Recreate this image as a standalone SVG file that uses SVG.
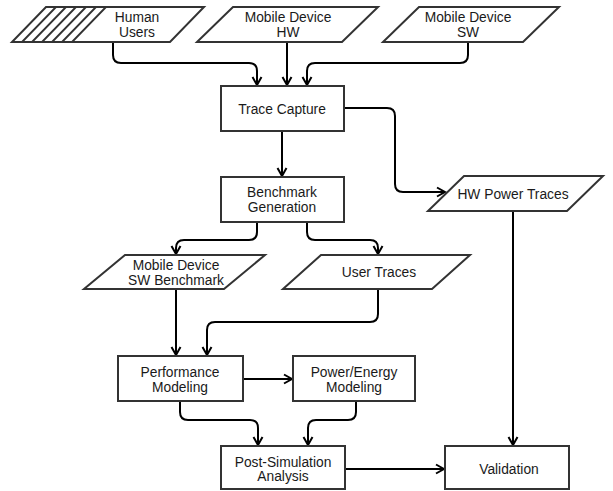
<svg xmlns="http://www.w3.org/2000/svg" width="613" height="491" viewBox="0 0 613 491">
<style>
.n{fill:#fff;stroke:#333;stroke-width:2}
.h{stroke:#333;stroke-width:1.8;fill:none}
.t{font-family:"Liberation Sans",Arial,sans-serif;font-size:13.8px;fill:#1a1a1a;text-anchor:middle}
.c{fill:none;stroke:#000;stroke-width:2;marker-end:url(#a)}
</style>
<defs>
<marker id="a" markerUnits="userSpaceOnUse" markerWidth="12" markerHeight="12" viewBox="-10 -6 12 12" refX="0" refY="0" orient="auto">
<path d="M-8,-4.5 L0,0 L-8,4.5" fill="none" stroke="#000" stroke-width="2"/>
</marker>
</defs>
<rect width="613" height="491" fill="#fff"/>
<g id="connectors">
<path class="c" d="M113,42 V55 Q113,63 121,63 H249 Q257,63 257,71 V85"/>
<path class="c" d="M287,42 V85"/>
<path class="c" d="M468,42 V55 Q468,63 460,63 H315 Q307,63 307,71 V85"/>
<path class="c" d="M282,131 V176"/>
<path class="c" d="M344,108 H387 Q395,108 395,116 V184 Q395,192 403,192 H445"/>
<path class="c" d="M257,222 V232 Q257,240 249,240 H184 Q176,240 176,248 V254"/>
<path class="c" d="M307,222 V232 Q307,240 315,240 H370 Q378,240 378,248 V254"/>
<path class="c" d="M176,289 V355"/>
<path class="c" d="M378,289 V314 Q378,322 370,322 H215 Q207,322 207,330 V355"/>
<path class="c" d="M243,379 H292"/>
<path class="c" d="M180,401 V412 Q180,420 188,420 H250 Q258,420 258,428 V445"/>
<path class="c" d="M356,401 V412 Q356,420 348,420 H316 Q308,420 308,428 V445"/>
<path class="c" d="M345,469 H444"/>
<path class="c" d="M513,211 V445"/>
</g>
<g id="human-users">
<polygon class="n" points="46,7 204,7 170,42 12,42"/>
<path class="h" d="M56,7 L22,42 M66,7 L32,42 M76,7 L42,42 M86,7 L52,42 M96,7 L62,42 M106,7 L72,42"/>
<text class="t" x="137" y="21.7">Human</text>
<text class="t" x="137" y="36.7">Users</text>
</g>
<g id="mobile-device-hw">
<polygon class="n" points="233,7 378,7 342,42 197,42"/>
<text class="t" x="288" y="21.7">Mobile Device</text>
<text class="t" x="288" y="36.7">HW</text>
</g>
<g id="mobile-device-sw">
<polygon class="n" points="419,7 559,7 523,42 383,42"/>
<text class="t" x="468" y="21.7">Mobile Device</text>
<text class="t" x="468" y="36.7">SW</text>
</g>
<g id="trace-capture">
<rect class="n" x="221" y="86" width="123" height="45"/>
<text class="t" x="282" y="113.7">Trace Capture</text>
</g>
<g id="benchmark-generation">
<rect class="n" x="221" y="177" width="123" height="45"/>
<text class="t" x="282" y="196.7">Benchmark</text>
<text class="t" x="282" y="211.7">Generation</text>
</g>
<g id="hw-power-traces">
<polygon class="n" points="464,176 603,176 567,211 428,211"/>
<text class="t" x="513" y="198.5">HW Power Traces</text>
</g>
<g id="mobile-device-sw-benchmark">
<polygon class="n" points="125,255 265,255 224,289 84,289"/>
<text class="t" x="176" y="270">Mobile Device</text>
<text class="t" x="176" y="285">SW Benchmark</text>
</g>
<g id="user-traces">
<polygon class="n" points="321,255 470,255 432,289 283,289"/>
<text class="t" x="379" y="277">User Traces</text>
</g>
<g id="performance-modeling">
<rect class="n" x="118" y="356" width="125" height="45"/>
<text class="t" x="180" y="376.5">Performance</text>
<text class="t" x="180" y="391.5">Modeling</text>
</g>
<g id="power-energy-modeling">
<rect class="n" x="293" y="356" width="122" height="45"/>
<text class="t" x="354" y="376.5">Power/Energy</text>
<text class="t" x="354" y="391.5">Modeling</text>
</g>
<g id="post-simulation-analysis">
<rect class="n" x="221" y="446" width="124" height="43"/>
<text class="t" x="283" y="466.5">Post-Simulation</text>
<text class="t" x="283" y="480.5">Analysis</text>
</g>
<g id="validation">
<rect class="n" x="445" y="446" width="124" height="43"/>
<text class="t" x="509" y="473.5">Validation</text>
</g>
</svg>
